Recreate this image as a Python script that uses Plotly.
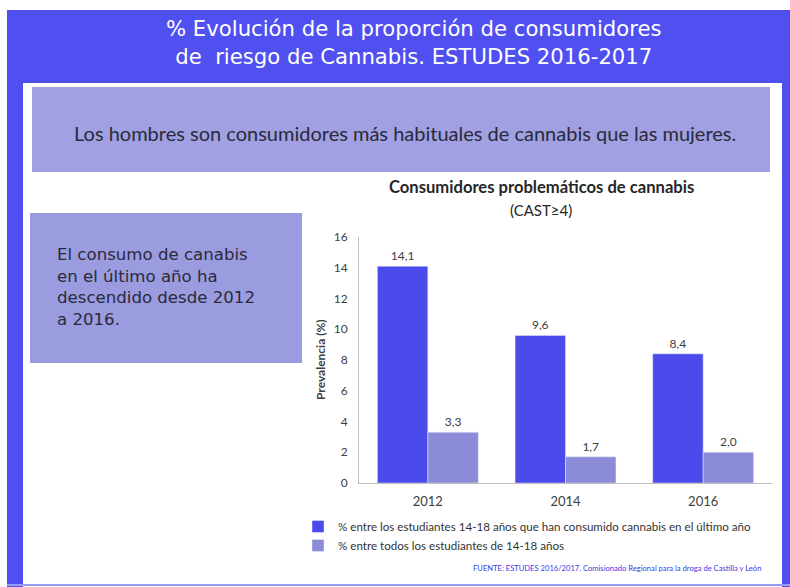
import plotly.graph_objects as go

# ---- data ----
years = ["2012", "2014", "2016"]
consumers_last_year = [14.1, 9.6, 8.4]
all_students = [3.3, 1.7, 2.0]
series_names = [
    "% entre los estudiantes 14-18 años que han consumido cannabis en el último año",
    "% entre todos los estudiantes de 14-18 años",
]
y_ticks = [0, 2, 4, 6, 8, 10, 12, 14, 16]

# ---- layout geometry (pixels) ----
W, H = 790, 587
L, R, T, B = 359, 18, 237, 104
PW, PH = W - L - R, H - T - B

def px(x):
    return (x - L) / PW

def py(y):
    return (H - B - y) / PH

BLUE = "#5050f0"
DARK = "#4b4bec"
LIGHT = "#8b8bd8"
PANEL = "#a0a0e2"
BOX = "#9b9bdf"
TXT = "#404040"
GEO = "Lato"

fig = go.Figure()
fig.add_trace(go.Bar(x=years, y=consumers_last_year, name=series_names[0],
                     marker_color=DARK, texttemplate="%{y:.1f}", textposition="outside",
                     textfont=dict(size=12, color=TXT), cliponaxis=False))
fig.add_trace(go.Bar(x=years, y=all_students, name=series_names[1],
                     marker_color=LIGHT, texttemplate="%{y:.1f}", textposition="outside",
                     textfont=dict(size=12, color=TXT), cliponaxis=False))

shapes = []
def rect(x0, y0, x1, y1, color):
    shapes.append(dict(type="rect", xref="paper", yref="paper",
                       x0=px(x0), x1=px(x1), y0=py(y1), y1=py(y0),
                       fillcolor=color, line=dict(width=0), layer="below"))

rect(7, 10, 790, 83, BLUE)        # top band
rect(7, 10, 23, 587, BLUE)        # left border
rect(782, 10, 790, 587, BLUE)     # right border
rect(7, 584, 790, 586, "#9a9af0") # bottom line
rect(32, 87, 770, 172, PANEL)     # statement panel
rect(30, 213, 302, 363, BOX)      # left box

annotations = []
def text(x, y, s, size, color, xanchor="center", family=GEO, align="center"):
    annotations.append(dict(x=px(x), y=py(y), xref="paper", yref="paper", text=s,
                            showarrow=False, xanchor=xanchor, yanchor="middle",
                            align=align, font=dict(size=size, color=color, family=family)))

text(414, 42, "% Evolución de la proporción de consumidores<br>de  riesgo de Cannabis. ESTUDES 2016-2017",
     21.2, "white", family="DejaVu Sans")
text(405, 133, "Los hombres son consumidores más habituales de cannabis que las mujeres.", 20, "#2a2a3a")
text(55, 287, "El consumo de canabis<br>en el último año ha<br>descendido desde 2012<br>a 2016.",
     16.6, "#2a2a3a", xanchor="left", align="left", family="DejaVu Sans")
text(541, 187, "<b>Consumidores problemáticos de cannabis</b>", 16.6, "#262626")
text(541, 210, "(CAST≥4)", 15, "#262626")
text(763, 568, "FUENTE: ESTUDES 2016/2017. Comisionado Regional para la droga de Castilla y León", 7.6, "#3a3ae6", xanchor="right")
text(320, 360, "<b>Prevalencia (%)</b>", 12, TXT)
annotations[-1]["textangle"] = -90

fig.update_layout(
    width=W, height=H, margin=dict(l=L, r=R, t=T, b=B, pad=0),
    paper_bgcolor="white", plot_bgcolor="white",
    barmode="group", bargap=0.267, bargroupgap=0,
    separators=",.",
    font=dict(family=GEO, color=TXT),
    shapes=shapes, annotations=annotations,
    showlegend=True,
    legend=dict(x=px(298), y=py(512), xanchor="left", yanchor="top",
                orientation="v", font=dict(size=11.6, color="#333333"),
                bgcolor="rgba(0,0,0,0)", tracegroupgap=2),
)
fig.update_xaxes(showline=True, linecolor="#bfbfbf", linewidth=1, ticks="",
                 tickfont=dict(size=13, color=TXT, family=GEO), showgrid=False,
                 ticklabelstandoff=6)
fig.update_yaxes(range=[0, 16], tickvals=y_ticks, showline=True, linecolor="#bfbfbf",
                 linewidth=1, ticks="", showgrid=False, zeroline=False,
                 tickfont=dict(size=12, color=TXT, family=GEO), ticklabelstandoff=8)

fig.write_html("out.html")
